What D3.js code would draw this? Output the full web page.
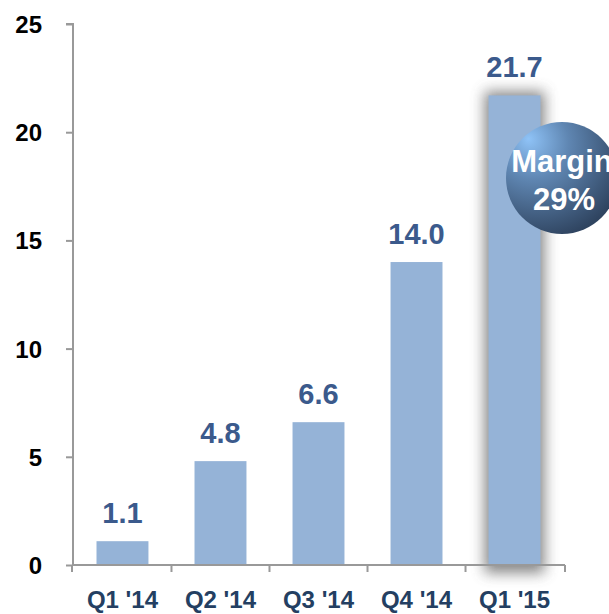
<!DOCTYPE html>
<html lang="en">
<head>
	<meta charset="UTF-8"/>
	<title>Quarterly bars</title>
	<script src="https://d3js.org/d3.v7.min.js"></script>
	<style>
		body { margin: 0; background: #fff; }
		text { font-family: Arial, "Liberation Sans", sans-serif; font-weight: bold; }
	</style>
</head>
<body>
<script>
	var quarters = ["Q1 '14", "Q2 '14", "Q3 '14", "Q4 '14", "Q1 '15"];
	var values = [1.1, 4.8, 6.6, 14.0, 21.7];
	var yTicks = [0, 5, 10, 15, 20, 25];
	var marginLabel = ["Margin", "29%"];

	var w = 609;
	var h = 614;

	var xScale = d3.scaleBand()
				.domain(quarters)
				.range([72, 565])
				.paddingInner(0.47)
				.paddingOuter(0.25);

	var yScale = d3.scaleLinear()
				.domain([0, 25])
				.range([565, 24]);

	var svg = d3.select("body")
				.append("svg")
				.attr("width", w)
				.attr("height", h);

	var defs = svg.append("defs");
	defs.append("filter")
		.attr("id", "blur")
		.attr("x", "-50%").attr("y", "-10%")
		.attr("width", "200%").attr("height", "120%")
		.append("feGaussianBlur")
		.attr("stdDeviation", 7);

	var grad = defs.append("radialGradient")
		.attr("id", "ball")
		.attr("cx", "30%").attr("cy", "25%").attr("r", "80%")
		.attr("fx", "20%").attr("fy", "15%");
	grad.append("stop").attr("offset", "0%").attr("stop-color", "#8fc3f7");
	grad.append("stop").attr("offset", "40%").attr("stop-color", "#5f86b2");
	grad.append("stop").attr("offset", "100%").attr("stop-color", "#2f4460");

	// shadow behind last bar
	var last = quarters[quarters.length - 1];
	svg.append("rect")
		.attr("x", xScale(last) - 4)
		.attr("y", yScale(values[values.length - 1]) - 4)
		.attr("width", xScale.bandwidth() + 8)
		.attr("height", yScale(0) - yScale(values[values.length - 1]) + 12)
		.attr("fill", "#555")
		.attr("opacity", 0.7)
		.attr("filter", "url(#blur)");

	// bars
	svg.selectAll("rect.bar")
		.data(values)
		.enter()
		.append("rect")
		.attr("class", "bar")
		.attr("x", function(d, i) { return xScale(quarters[i]); })
		.attr("y", function(d) { return yScale(d); })
		.attr("width", xScale.bandwidth())
		.attr("height", function(d) { return yScale(0) - yScale(d); })
		.attr("fill", "#95b3d7");

	// value labels
	svg.selectAll("text.val")
		.data(values)
		.enter()
		.append("text")
		.attr("class", "val")
		.attr("x", function(d, i) { return xScale(quarters[i]) + xScale.bandwidth() / 2; })
		.attr("y", function(d) { return yScale(d) - 18; })
		.attr("text-anchor", "middle")
		.attr("font-size", 29)
		.attr("fill", "#3b5a8c")
		.text(function(d) { return d.toFixed(1); });

	// axes
	var xAxis = svg.append("g")
		.attr("transform", "translate(0," + yScale(0) + ")");
	xAxis.append("line")
		.attr("x1", 72).attr("x2", 565)
		.attr("stroke", "#999").attr("stroke-width", 2);
	var xEdges = quarters.map(function(q) { return xScale(q) - xScale.step() * xScale.paddingInner() / 2; });
	xEdges.push(565);
	xEdges[0] = 72;
	xAxis.selectAll("line.tick")
		.data(xEdges)
		.enter()
		.append("line")
		.attr("x1", function(d) { return d; })
		.attr("x2", function(d) { return d; })
		.attr("y1", 0).attr("y2", 7)
		.attr("stroke", "#999").attr("stroke-width", 2);
	xAxis.selectAll("text")
		.data(quarters)
		.enter()
		.append("text")
		.attr("x", function(d) { return xScale(d) + xScale.bandwidth() / 2; })
		.attr("y", 43)
		.attr("text-anchor", "middle")
		.attr("font-size", 24)
		.attr("fill", "#243f62")
		.text(function(d) { return d; });

	var yAxis = svg.append("g")
		.attr("transform", "translate(73,0)")
		.call(d3.axisLeft(yScale).tickValues(yTicks).tickSize(7).tickPadding(24));
	yAxis.select(".domain").attr("stroke", "#999").attr("stroke-width", 2)
		.attr("d", "M-7," + yScale(25) + "H0V" + yScale(0));
	yAxis.selectAll(".tick line").attr("stroke", "#999").attr("stroke-width", 2);
	yAxis.selectAll(".tick text")
		.attr("font-size", 24)
		.attr("fill", "#000")
		.attr("font-family", "Arial, 'Liberation Sans', sans-serif")
		.attr("font-weight", "bold")
		.attr("dy", "0.35em");

	// margin bubble
	svg.append("circle")
		.attr("cx", 562).attr("cy", 178).attr("r", 56)
		.attr("fill", "url(#ball)");
	svg.selectAll("text.margin")
		.data(marginLabel)
		.enter()
		.append("text")
		.attr("class", "margin")
		.attr("x", function(d, i) { return i === 0 ? 562 : 564; })
		.attr("y", function(d, i) { return 172 + i * 38; })
		.attr("text-anchor", "middle")
		.attr("font-size", 31)
		.attr("fill", "#fff")
		.text(function(d) { return d; });
</script>
</body>
</html>
